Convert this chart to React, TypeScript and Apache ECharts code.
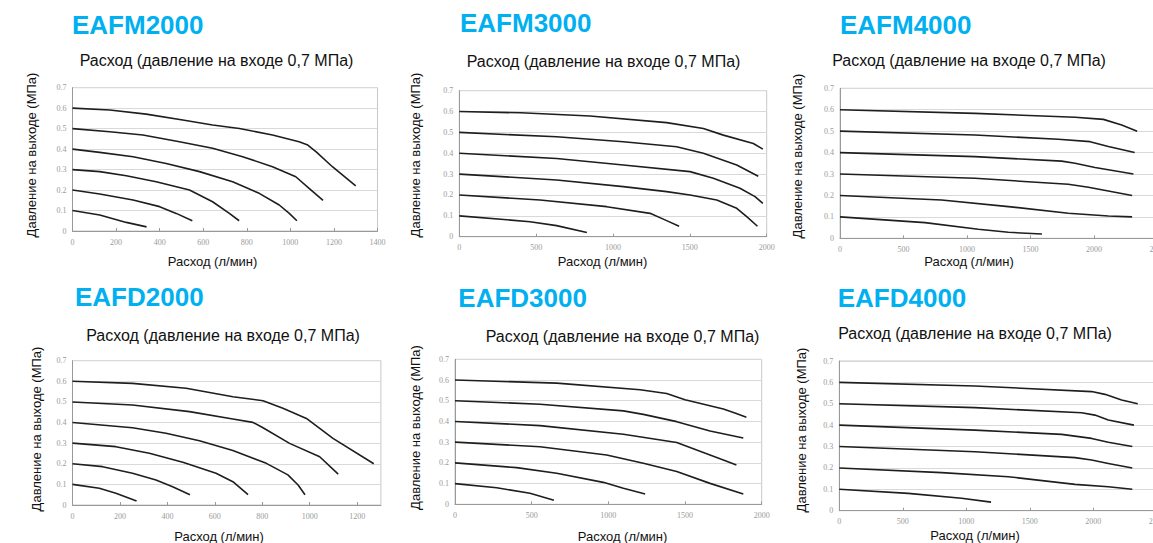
import { useEffect, useRef } from 'react';
import * as echarts from 'echarts';

const models = ['EAFM2000', 'EAFM3000', 'EAFM4000', 'EAFD2000', 'EAFD3000', 'EAFD4000'];
const subtitleText = 'Расход (давление на входе 0,7 МПа)';
const xAxisName = 'Расход (л/мин)';
const yAxisName = 'Давление на выходе (МПа)';
const xMaxes = [1400, 2000, 2500, 1300, 2000, 2500];
const xSteps = [200, 500, 500, 200, 500, 500];
const xShowMax = [true, true, true, false, true, true];
const yMax = 0.7;
const yStep = 0.1;

// curves: set pressure 0.6, 0.5, 0.4, 0.3, 0.2, 0.1 MPa — [flow l/min, outlet MPa]
const EAFM2000 = [
  [[0, 0.6], [171, 0.591], [338, 0.571], [506, 0.542], [643, 0.518], [766, 0.501], [918, 0.469], [1040, 0.436], [1080, 0.42], [1120, 0.385], [1193, 0.314], [1300, 0.22]],
  [[0, 0.5], [171, 0.485], [323, 0.469], [491, 0.436], [643, 0.404], [781, 0.363], [918, 0.314], [1025, 0.265], [1086, 0.208], [1150, 0.15]],
  [[0, 0.4], [125, 0.384], [278, 0.363], [430, 0.33], [583, 0.29], [735, 0.241], [857, 0.184], [949, 0.127], [995, 0.086], [1030, 0.05]],
  [[0, 0.3], [125, 0.29], [247, 0.27], [384, 0.241], [537, 0.2], [643, 0.143], [720, 0.086], [765, 0.05]],
  [[0, 0.2], [125, 0.181], [278, 0.151], [400, 0.119], [476, 0.086], [550, 0.05]],
  [[0, 0.1], [125, 0.078], [247, 0.042], [340, 0.02]],
];
const EAFM3000 = [
  [[0, 0.6], [400, 0.594], [850, 0.579], [1349, 0.547], [1588, 0.519], [1718, 0.487], [1913, 0.447], [1975, 0.42]],
  [[0, 0.5], [633, 0.479], [1067, 0.455], [1414, 0.431], [1588, 0.4], [1805, 0.344], [1945, 0.29]],
  [[0, 0.4], [633, 0.375], [1067, 0.344], [1501, 0.312], [1653, 0.28], [1826, 0.232], [1924, 0.192], [1975, 0.16]],
  [[0, 0.3], [633, 0.272], [1067, 0.24], [1349, 0.216], [1501, 0.2], [1675, 0.176], [1805, 0.136], [1870, 0.096], [1940, 0.05]],
  [[0, 0.2], [525, 0.176], [959, 0.144], [1241, 0.112], [1349, 0.077], [1430, 0.05]],
  [[0, 0.1], [460, 0.072], [633, 0.053], [830, 0.02]],
];
const EAFM4000 = [
  [[0, 0.6], [1063, 0.583], [1851, 0.565], [2074, 0.555], [2218, 0.529], [2340, 0.5]],
  [[0, 0.5], [1063, 0.482], [1719, 0.462], [1969, 0.451], [2113, 0.428], [2320, 0.4]],
  [[0, 0.4], [1063, 0.381], [1745, 0.36], [1851, 0.35], [2008, 0.33], [2310, 0.3]],
  [[0, 0.3], [1063, 0.28], [1798, 0.252], [1956, 0.238], [2300, 0.2]],
  [[0, 0.2], [800, 0.179], [1326, 0.148], [1798, 0.117], [2113, 0.104], [2300, 0.1]],
  [[0, 0.1], [669, 0.073], [1089, 0.042], [1326, 0.028], [1590, 0.02]],
];
const EAFD2000 = [
  [[0, 0.6], [253, 0.59], [479, 0.566], [676, 0.525], [803, 0.506], [887, 0.469], [986, 0.42], [1098, 0.323], [1270, 0.2]],
  [[0, 0.5], [253, 0.485], [493, 0.453], [676, 0.417], [760, 0.401], [803, 0.375], [915, 0.299], [1042, 0.234], [1120, 0.15]],
  [[0, 0.4], [253, 0.375], [394, 0.348], [535, 0.312], [676, 0.264], [817, 0.202], [908, 0.146], [951, 0.097], [980, 0.05]],
  [[0, 0.3], [183, 0.283], [324, 0.251], [465, 0.207], [605, 0.154], [676, 0.113], [740, 0.05]],
  [[0, 0.2], [127, 0.186], [253, 0.154], [352, 0.121], [422, 0.089], [495, 0.05]],
  [[0, 0.1], [113, 0.081], [183, 0.057], [270, 0.02]],
];
const EAFD3000 = [
  [[0, 0.6], [663, 0.585], [1207, 0.553], [1380, 0.535], [1500, 0.505], [1750, 0.46], [1830, 0.44], [1900, 0.42]],
  [[0, 0.5], [554, 0.483], [1098, 0.451], [1228, 0.434], [1446, 0.399], [1663, 0.354], [1880, 0.32]],
  [[0, 0.4], [554, 0.38], [1098, 0.338], [1446, 0.298], [1576, 0.262], [1750, 0.214], [1835, 0.19]],
  [[0, 0.3], [554, 0.278], [989, 0.238], [1228, 0.198], [1446, 0.158], [1663, 0.101], [1880, 0.05]],
  [[0, 0.2], [402, 0.177], [663, 0.15], [967, 0.106], [1098, 0.077], [1240, 0.05]],
  [[0, 0.1], [272, 0.08], [489, 0.053], [645, 0.02]],
];
const EAFD4000 = [
  [[0, 0.6], [1068, 0.583], [1987, 0.557], [2092, 0.544], [2223, 0.518], [2350, 0.5]],
  [[0, 0.5], [1068, 0.482], [1908, 0.458], [2013, 0.447], [2118, 0.424], [2320, 0.4]],
  [[0, 0.4], [1068, 0.377], [1751, 0.357], [1987, 0.338], [2118, 0.32], [2307, 0.3]],
  [[0, 0.3], [1068, 0.276], [1856, 0.248], [1987, 0.237], [2118, 0.221], [2307, 0.2]],
  [[0, 0.2], [806, 0.178], [1331, 0.159], [1856, 0.123], [2118, 0.112], [2307, 0.1]],
  [[0, 0.1], [543, 0.081], [963, 0.058], [1195, 0.04]],
];
const panelData = [EAFM2000, EAFM3000, EAFM4000, EAFD2000, EAFD3000, EAFD4000];

// layout (pixels)
const layouts = [
  { grid: [72.5, 87.7, 305, 143.3], title: [72, 25], sub: [216.5, 60], yName: [31, 155], xName: [212.5, 261] },
  { grid: [459.3, 90.7, 307.4, 146], title: [460, 23], sub: [603.5, 61.5], yName: [415, 155], xName: [602.5, 261] },
  { grid: [840, 88.3, 317.5, 150], title: [840, 25], sub: [969, 60], yName: [797, 156], xName: [969, 261] },
  { grid: [72.5, 360.7, 308.4, 144.3], title: [75, 296.7], sub: [223, 335], yName: [36, 429], xName: [219, 536] },
  { grid: [455, 359.3, 306.7, 145], title: [458.3, 298.3], sub: [622.5, 336.7], yName: [415, 427.5], xName: [622.5, 536.7] },
  { grid: [839.3, 361, 317.5, 149.7], title: [837.7, 298.3], sub: [975, 333.3], yName: [801, 430], xName: [975, 535] },
];

export default function App() {
  const ref = useRef<HTMLDivElement>(null);
  useEffect(() => {
    if (!ref.current) return;
    const chart = echarts.init(ref.current, null, { renderer: 'svg' });
    const grids: any[] = [];
    const xAxes: any[] = [];
    const yAxes: any[] = [];
    const series: any[] = [];
    const graphics: any[] = [];
    const tickFont = { fontFamily: 'Liberation Serif, DejaVu Serif, serif', fontSize: 8, color: '#9a9a9a' };
    layouts.forEach((L, i) => {
      const [left, top, width, height] = L.grid;
      grids.push({
        left, top, width, height, show: true, borderColor: '#c8c8c8', borderWidth: 1, backgroundColor: '#fff',
        containLabel: false, outerBoundsMode: 'none',
      });
      xAxes.push({
        type: 'value', gridIndex: i, min: 0, max: xMaxes[i], interval: xSteps[i],
        axisLine: { show: true, onZero: false, lineStyle: { color: '#999', width: 1 } },
        axisTick: { show: true, inside: true, length: 3, lineStyle: { color: '#999' } },
        axisLabel: { ...tickFont, margin: 7, showMaxLabel: xShowMax[i], hideOverlap: false, formatter: (v: number) => String(v) },
        splitLine: { show: false },
      });
      yAxes.push({
        type: 'value', gridIndex: i, min: 0, max: yMax, interval: yStep,
        axisLine: { show: true, lineStyle: { color: '#999', width: 1 } },
        axisTick: { show: false },
        axisLabel: { ...tickFont, margin: 6, formatter: (v: number) => (v === 0 ? '0' : v.toFixed(1)) },
        splitLine: { show: true, lineStyle: { color: '#d9d9d9', width: 1 } },
      });
      panelData[i].forEach((curve) => {
        series.push({
          type: 'line', xAxisIndex: i, yAxisIndex: i, data: curve, showSymbol: false,
          smooth: false,
          lineStyle: { color: '#1e1e1e', width: 1.6, join: 'round' },
        });
      });
      graphics.push({
        type: 'text', x: L.title[0], y: L.title[1],
        style: { text: models[i], fontFamily: 'Liberation Sans, Arial, sans-serif', fontWeight: 'bold', fontSize: 26, fill: '#00b0f0', align: 'left', verticalAlign: 'middle' },
      });
      graphics.push({
        type: 'text', x: L.sub[0], y: L.sub[1],
        style: { text: subtitleText, fontFamily: 'Liberation Sans, Arial, sans-serif', fontSize: 16, fill: '#111', align: 'center', verticalAlign: 'middle' },
      });
      graphics.push({
        type: 'text', x: L.xName[0], y: L.xName[1],
        style: { text: xAxisName, fontFamily: 'Liberation Sans, Arial, sans-serif', fontSize: 13, fill: '#111', align: 'center', verticalAlign: 'middle' },
      });
      graphics.push({
        type: 'text', x: L.yName[0], y: L.yName[1], rotation: Math.PI / 2,
        style: { text: yAxisName, fontFamily: 'Liberation Sans, Arial, sans-serif', fontSize: 13, fill: '#111', align: 'center', verticalAlign: 'middle' },
      });
    });
    chart.setOption({
      animation: false,
      backgroundColor: '#fff',
      grid: grids,
      xAxis: xAxes,
      yAxis: yAxes,
      series,
      graphic: graphics,
    });
    return () => chart.dispose();
  }, []);
  return (
    <div
      ref={ref}
      style={{ position: 'absolute', left: 0, top: 0, width: 1153, height: 543, background: '#fff' }}
    />
  );
}
